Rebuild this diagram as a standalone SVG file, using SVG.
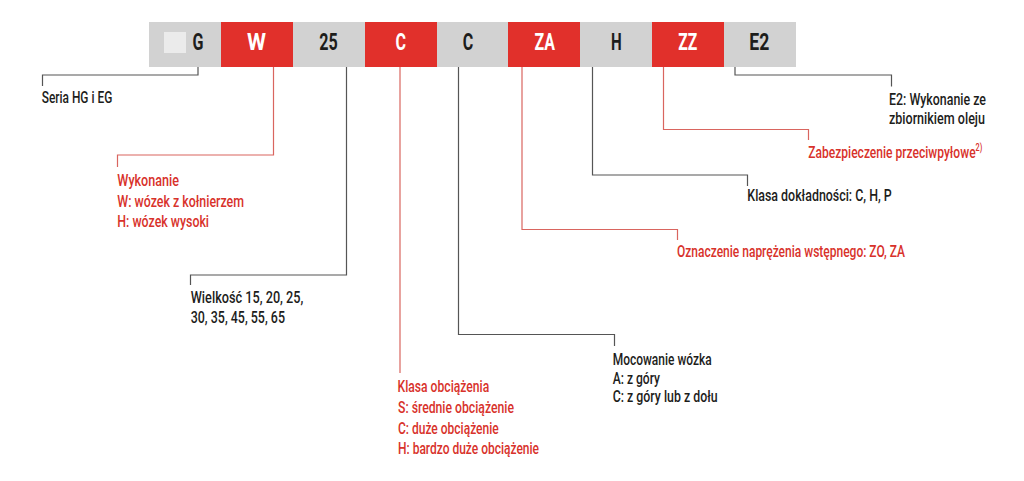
<svg xmlns="http://www.w3.org/2000/svg" width="1024" height="481" viewBox="0 0 1024 481">
<style>
.g{fill:#d2d2d2}
.r{fill:#e1302b}
.bl{font-family:"Roboto","Liberation Sans",sans-serif;font-weight:bold;font-size:23px;text-anchor:middle}
.bw{fill:#ffffff}
.bd{fill:#1d1d1b}
.t{font-family:"Roboto","Liberation Sans",sans-serif;font-weight:500;font-size:16.5px}
.sup{font-size:10px}
.td{fill:#1d1d1b}
.tr{fill:#d8322b}
.cd{fill:none;stroke:#555555;stroke-width:1.2}
.cr{fill:none;stroke:#d9655f;stroke-width:1.2}
</style>
<rect width="1024" height="481" fill="#ffffff"/>
<g id="bar">
<rect class="g" x="149" y="22" width="72" height="45"/>
<rect x="164" y="32" width="22" height="21" fill="#ebebeb"/>
<rect class="r" x="221" y="22" width="72" height="45"/>
<rect class="g" x="293" y="22" width="72" height="45"/>
<rect class="r" x="365" y="22" width="72" height="45"/>
<rect class="g" x="437" y="22" width="72" height="45"/>
<rect class="r" x="508" y="22" width="72" height="45"/>
<rect class="g" x="580" y="22" width="72" height="45"/>
<rect class="r" x="652" y="22" width="72" height="45"/>
<rect class="g" x="724" y="22" width="72" height="45"/>
<text class="bl bd" x="198" y="50" textLength="11" lengthAdjust="spacingAndGlyphs">G</text>
<text class="bl bw" x="256.5" y="50" textLength="19" lengthAdjust="spacingAndGlyphs">W</text>
<text class="bl bd" x="328.5" y="50" textLength="18.5" lengthAdjust="spacingAndGlyphs">25</text>
<text class="bl bw" x="400.7" y="50" textLength="10.5" lengthAdjust="spacingAndGlyphs">C</text>
<text class="bl bd" x="468" y="50" textLength="10.5" lengthAdjust="spacingAndGlyphs">C</text>
<text class="bl bw" x="544.7" y="50" textLength="20.5" lengthAdjust="spacingAndGlyphs">ZA</text>
<text class="bl bd" x="616.3" y="50" textLength="10.7" lengthAdjust="spacingAndGlyphs">H</text>
<text class="bl bw" x="687.8" y="50" textLength="19" lengthAdjust="spacingAndGlyphs">ZZ</text>
<text class="bl bd" x="759.3" y="50" textLength="20" lengthAdjust="spacingAndGlyphs">E2</text>
</g>
<g id="connectors">
<polyline class="cd" points="198,67 198,75 42.5,75 42.5,86"/>
<polyline class="cr" points="273.5,67 273.5,155 117.5,155 117.5,167"/>
<polyline class="cd" points="346.5,67 346.5,275 190.5,275 190.5,285"/>
<polyline class="cr" points="400,67 400,373"/>
<polyline class="cd" points="458.5,67 458.5,334.5 614.5,334.5 614.5,346"/>
<polyline class="cr" points="522,67 522,229.5 677.5,229.5 677.5,240"/>
<polyline class="cd" points="592.5,67 592.5,175 747.5,175 747.5,186"/>
<polyline class="cr" points="663.5,67 663.5,129.5 808.5,129.5 808.5,140"/>
<polyline class="cd" points="735,67 735,75 891.5,75 891.5,86.5"/>
</g>
<g id="seria">
<text class="t td" x="41.7" y="103.3" textLength="70.6" lengthAdjust="spacingAndGlyphs">Seria HG i EG</text>
</g>
<g id="wykonanie">
<text class="t tr" x="117.3" y="186" textLength="61.7" lengthAdjust="spacingAndGlyphs">Wykonanie</text>
<text class="t tr" x="117.3" y="206.5" textLength="126.7" lengthAdjust="spacingAndGlyphs">W: wózek z kołnierzem</text>
<text class="t tr" x="117.3" y="226.7" textLength="91.7" lengthAdjust="spacingAndGlyphs">H: wózek wysoki</text>
</g>
<g id="wielkosc">
<text class="t td" x="190.7" y="303" textLength="112.7" lengthAdjust="spacingAndGlyphs">Wielkość 15, 20, 25,</text>
<text class="t td" x="190.7" y="323" textLength="94.3" lengthAdjust="spacingAndGlyphs">30, 35, 45, 55, 65</text>
</g>
<g id="klasa-obciazenia">
<text class="t tr" x="397.5" y="391.7" textLength="91.7" lengthAdjust="spacingAndGlyphs">Klasa obciążenia</text>
<text class="t tr" x="398" y="413" textLength="116" lengthAdjust="spacingAndGlyphs">S: średnie obciążenie</text>
<text class="t tr" x="398" y="434" textLength="100.7" lengthAdjust="spacingAndGlyphs">C: duże obciążenie</text>
<text class="t tr" x="398" y="453.5" textLength="141" lengthAdjust="spacingAndGlyphs">H: bardzo duże obciążenie</text>
</g>
<g id="mocowanie">
<text class="t td" x="612.7" y="365" textLength="99" lengthAdjust="spacingAndGlyphs">Mocowanie wózka</text>
<text class="t td" x="612.7" y="383.5" textLength="47.3" lengthAdjust="spacingAndGlyphs">A: z góry</text>
<text class="t td" x="612.7" y="402" textLength="105" lengthAdjust="spacingAndGlyphs">C: z góry lub z dołu</text>
</g>
<g id="naprezenie">
<text class="t tr" x="677" y="256.7" textLength="228" lengthAdjust="spacingAndGlyphs">Oznaczenie naprężenia wstępnego: ZO, ZA</text>
</g>
<g id="dokladnosc">
<text class="t td" x="747.3" y="200.7" textLength="144.4" lengthAdjust="spacingAndGlyphs">Klasa dokładności: C, H, P</text>
</g>
<g id="zabezpieczenie">
<text class="t tr" x="808.3" y="157.5" textLength="174" lengthAdjust="spacingAndGlyphs">Zabezpieczenie przeciwpyłowe<tspan class="sup" dy="-6.5">2)</tspan></text>
</g>
<g id="e2">
<text class="t td" x="889" y="105" textLength="97" lengthAdjust="spacingAndGlyphs">E2: Wykonanie ze</text>
<text class="t td" x="889" y="124" textLength="96" lengthAdjust="spacingAndGlyphs">zbiornikiem oleju</text>
</g>
</svg>
